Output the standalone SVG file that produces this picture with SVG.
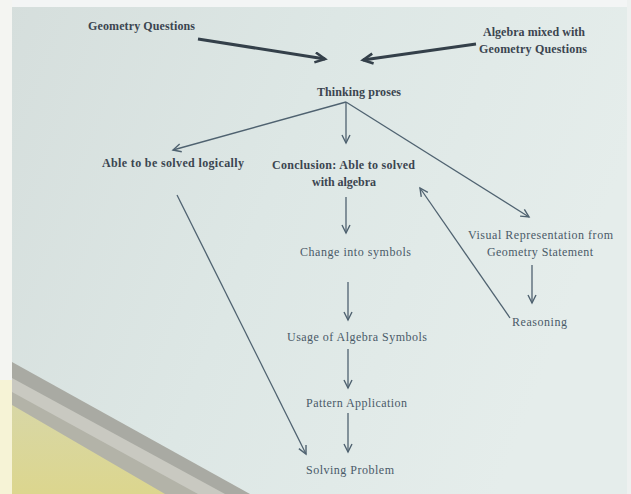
<svg xmlns="http://www.w3.org/2000/svg" width="631" height="494" viewBox="0 0 631 494">
<defs>
<linearGradient id="bg" x1="0" y1="0" x2="1" y2="0.3">
<stop offset="0" stop-color="#d5dedc"/>
<stop offset="0.5" stop-color="#dde7e5"/>
<stop offset="1" stop-color="#e5edeb"/>
</linearGradient>
<linearGradient id="yel" x1="0" y1="0" x2="0" y2="1">
<stop offset="0" stop-color="#d8d7a6"/>
<stop offset="1" stop-color="#dcd68e"/>
</linearGradient>
<marker id="ah" markerUnits="userSpaceOnUse" markerWidth="12" markerHeight="12" refX="9" refY="5" orient="auto">
<path d="M1,1 L9,5 L1,9" fill="none" stroke="#4f6270" stroke-width="1.4"/>
</marker>
<marker id="ahb" markerUnits="userSpaceOnUse" markerWidth="14" markerHeight="14" refX="11" refY="6" orient="auto">
<path d="M1,1 L11,6 L1,11" fill="none" stroke="#34404a" stroke-width="2.6"/>
</marker>
</defs>
<style>
text{font-family:'Liberation Serif','DejaVu Serif',serif;font-size:12px;text-anchor:middle}
.b{font-weight:bold;fill:#3b4550}
.n{fill:#4a5a68}
.c{fill:none;stroke:#4f6270;stroke-width:1.3;marker-end:url(#ah)}
.k{fill:none;stroke:#34404a;stroke-width:3;marker-end:url(#ahb)}
</style>
<g id="background">
<rect width="631" height="494" fill="url(#bg)"/>
<rect width="631" height="7" fill="#f3f5f5"/>
<rect x="0" y="0" width="12" height="494" fill="#f4f5f2"/>
<rect x="627" y="0" width="4" height="494" fill="#eef1f0"/>
<polygon points="12,362 250,494 12,494" fill="#a9aaa3"/>
<polygon points="12,378 225,494 12,494" fill="#c9c9c1"/>
<polygon points="12,392 198,494 12,494" fill="#b3b3a8"/>
<polygon points="12,405 165,494 12,494" fill="url(#yel)"/>
<polygon points="0,380 12,380 12,494 0,494" fill="#f6f3d6"/>
</g>
<g id="connectors">
<line class="k" x1="198" y1="39" x2="325" y2="59"/>
<line class="k" x1="476" y1="44" x2="363" y2="60"/>
<line class="c" x1="346" y1="102" x2="173" y2="150"/>
<line class="c" x1="346" y1="102" x2="346" y2="143"/>
<line class="c" x1="346" y1="102" x2="529" y2="217"/>
<line class="c" x1="346" y1="197" x2="346" y2="233"/>
<line class="c" x1="348" y1="282" x2="348" y2="320"/>
<line class="c" x1="348" y1="349" x2="348" y2="388"/>
<line class="c" x1="348" y1="413" x2="348" y2="452"/>
<line class="c" x1="177" y1="195" x2="306" y2="454"/>
<line class="c" x1="532" y1="265" x2="532" y2="303"/>
<line class="c" x1="510" y1="318" x2="420" y2="188"/>
</g>
<g font-family="'Liberation Serif', serif">
<g id="geometry-questions"><text class="b" x="141.5" y="30" textLength="107">Geometry Questions</text></g>
<g id="algebra-mixed"><text class="b" x="534" y="35.5" textLength="102">Algebra mixed with</text><text class="b" x="533" y="53" textLength="108">Geometry Questions</text></g>
<g id="thinking"><text class="b" x="359" y="95.5" textLength="84">Thinking proses</text></g>
<g id="logically"><text class="b" x="173" y="167" textLength="142">Able to be solved logically</text></g>
<g id="conclusion"><text class="b" x="343.5" y="168.5" textLength="143">Conclusion: Able to solved</text><text class="b" x="344" y="185.5" textLength="64">with algebra</text></g>
<g id="visual"><text class="n" x="540.5" y="239" textLength="145">Visual Representation from</text><text class="n" x="540" y="256" textLength="106">Geometry Statement</text></g>
<g id="change"><text class="n" x="355.5" y="256" textLength="111">Change into symbols</text></g>
<g id="reasoning"><text class="n" x="539.5" y="326" textLength="55">Reasoning</text></g>
<g id="usage"><text class="n" x="357" y="341" textLength="140">Usage of Algebra Symbols</text></g>
<g id="pattern"><text class="n" x="356.5" y="407" textLength="101">Pattern Application</text></g>
<g id="solving"><text class="n" x="350" y="474" textLength="88">Solving Problem</text></g>
</g>
</svg>
